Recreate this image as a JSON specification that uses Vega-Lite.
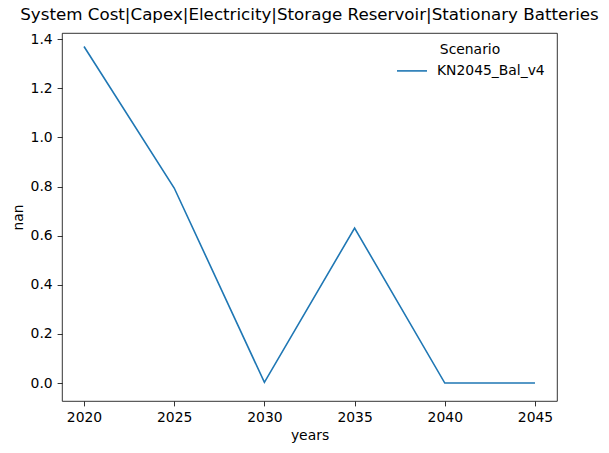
{
  "$schema": "https://vega.github.io/schema/vega-lite/v6.json",
  "width": 495,
  "height": 368,
  "autosize": {"type": "none"},
  "padding": {"left": 62, "top": 33, "right": 52, "bottom": 52},
  "background": "white",
  "title": {"text": "System Cost|Capex|Electricity|Storage Reservoir|Stationary Batteries", "font": "DejaVu Sans", "fontSize": 16.7, "fontWeight": "normal", "color": "black", "offset": 8, "anchor": "middle"},
  "data": {"values": [
    {"year": 2020, "value": 1.37, "Scenario": "KN2045_Bal_v4"},
    {"year": 2025, "value": 0.794, "Scenario": "KN2045_Bal_v4"},
    {"year": 2030, "value": 0.003, "Scenario": "KN2045_Bal_v4"},
    {"year": 2035, "value": 0.631, "Scenario": "KN2045_Bal_v4"},
    {"year": 2040, "value": 0.0, "Scenario": "KN2045_Bal_v4"},
    {"year": 2045, "value": 0.0, "Scenario": "KN2045_Bal_v4"}
  ]},
  "mark": {"type": "line", "strokeWidth": 1.6},
  "encoding": {
    "x": {"field": "year", "type": "quantitative", "title": "years",
      "scale": {"domain": [2018.78, 2046.22], "nice": false, "zero": false},
      "axis": {"values": [2020, 2025, 2030, 2035, 2040, 2045], "format": "d", "grid": false}},
    "y": {"field": "value", "type": "quantitative", "title": "nan",
      "scale": {"domain": [-0.073, 1.425], "nice": false, "zero": false},
      "axis": {"values": [0, 0.2, 0.4, 0.6, 0.8, 1.0, 1.2, 1.4], "format": ".1f", "grid": false}},
    "color": {"field": "Scenario", "type": "nominal", "scale": {"range": ["#1f77b4"]},
      "legend": {"orient": "none", "legendX": 334, "legendY": 10, "symbolType": "stroke", "symbolSize": 900, "symbolStrokeWidth": 1.6, "labelOffset": 9, "titleAnchor": "middle", "titlePadding": -2}}
  },
  "config": {
    "font": "DejaVu Sans",
    "view": {"stroke": "black", "strokeWidth": 0.8},
    "axis": {"labelFont": "DejaVu Sans", "labelFontSize": 13.9, "labelColor": "black", "titleFont": "DejaVu Sans", "titleFontSize": 13.9, "titleFontWeight": "normal", "titleColor": "black", "domain": false, "tickColor": "black", "tickSize": 4.9, "tickWidth": 0.8, "labelPadding": 4.9},
    "axisX": {"titlePadding": 4},
    "axisY": {"titlePadding": 5},
    "legend": {"labelFont": "DejaVu Sans", "labelFontSize": 13.9, "titleFont": "DejaVu Sans", "titleFontSize": 13.9, "titleFontWeight": "normal", "labelColor": "black", "titleColor": "black"}
  }
}
